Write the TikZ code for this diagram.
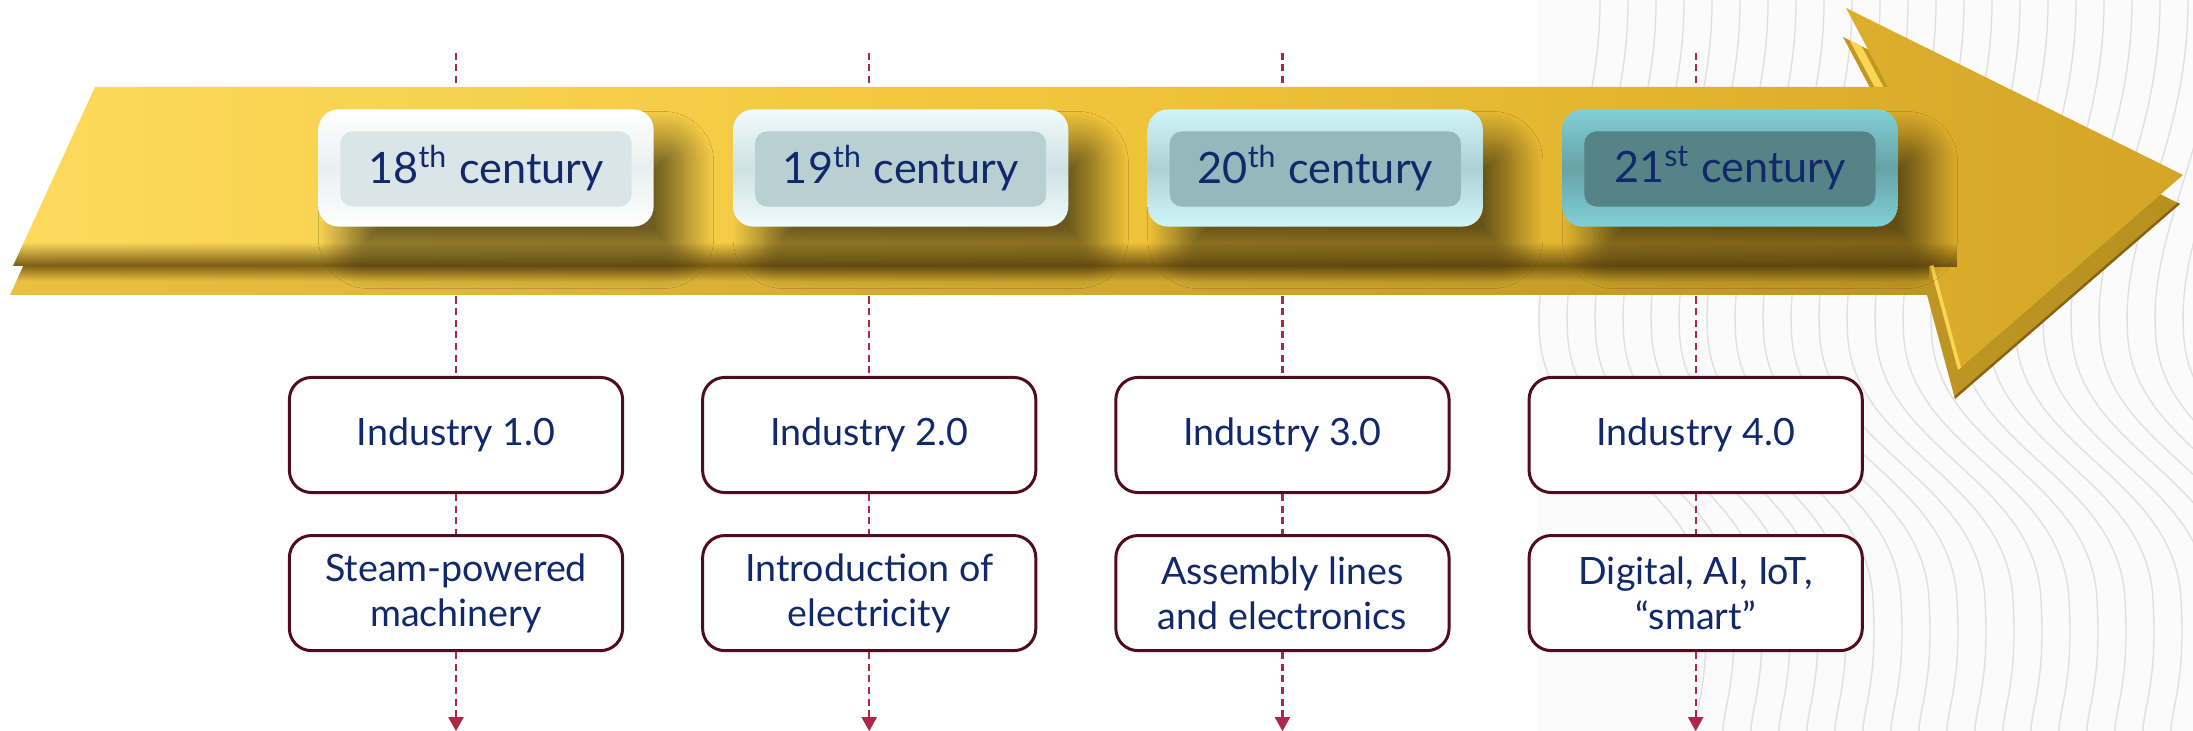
\documentclass[tikz,border=0pt]{standalone}
\usepackage{fontspec}
\setmainfont{Lato}
\usetikzlibrary{positioning, math, calc, arrows.meta, fadings, shadows.blur}

\definecolor{navyText}{RGB}{17,41,107}
\definecolor{maroonLine}{RGB}{78,12,28}
\definecolor{dashRed}{RGB}{172,40,68}
\definecolor{goldLight}{RGB}{253,218,92}
\definecolor{goldMid}{RGB}{240,196,58}
\definecolor{goldDeep}{RGB}{212,165,38}
\definecolor{goldSideL}{RGB}{234,192,66}
\definecolor{goldSideR}{RGB}{184,144,30}
\definecolor{goldShade}{RGB}{98,72,12}
\definecolor{goldGlow}{RGB}{252,214,80}
\definecolor{rimA}{RGB}{255,255,255}
\definecolor{fillA}{RGB}{218,229,231}
\definecolor{rimB}{RGB}{240,251,252}
\definecolor{fillB}{RGB}{185,208,211}
\definecolor{rimC}{RGB}{208,245,248}
\definecolor{fillC}{RGB}{149,184,188}
\definecolor{rimD}{RGB}{128,208,214}
\definecolor{fillD}{RGB}{86,132,134}
\definecolor{waveGray}{RGB}{224,224,224}
\definecolor{bgGray}{RGB}{251,251,251}

% flat panel inside the bevelled century boxes
\newcommand{\innerpanel}[1]{%
	\fill[#1, rounded corners=1.2mm]
		($(path picture bounding box.south west)+(2.2mm,2mm)$) rectangle
		($(path picture bounding box.north east)+(-2.2mm,-2.2mm)$);}

\begin{document}
\begin{tikzpicture}[x=0.01cm, y=-0.01cm]
		\tikzmath{
			\boxW      = 33.3;  %industry box width
			\boxH      = 11.5;  %industry box height
			\boxGap    = 7.7;   %distance between industry boxes
			\rowGap    = 4;     %distance between the two rows
			\centW     = 33.5;  %century box width
			\centH     = 11.7;  %century box height
			\centGap   = 7.8;   %distance between century boxes
		}
		\tikzstyle{IndBox} = [
			draw=maroonLine,
			line width=0.85pt,
			fill=white,
			rounded corners=2.2mm,
			align=center,
			text=navyText,
			font=\fontsize{10.7}{12.9}\selectfont,
			minimum width=\boxW mm,
			minimum height=\boxH mm,
		]
		\tikzstyle{CentBase} = [
			rounded corners=2mm,
			text=navyText,
			font=\fontsize{12.3}{14}\selectfont,
			minimum width=\centW mm,
			minimum height=\centH mm,
			blur shadow={shadow xshift=3mm, shadow yshift=-3.2mm, shadow blur radius=3mm,
				shadow blur steps=20, shadow opacity=55},
		]
		\tikzstyle{CentA} = [CentBase, top color=rimA, bottom color=rimA, middle color=fillA!60!rimA, path picture={\innerpanel{fillA}}]
		\tikzstyle{CentB} = [CentBase, top color=rimB, bottom color=rimB, middle color=fillB!60!rimB, path picture={\innerpanel{fillB}}]
		\tikzstyle{CentC} = [CentBase, top color=rimC, bottom color=rimC, middle color=fillC!60!rimC, path picture={\innerpanel{fillC}}]
		\tikzstyle{CentD} = [CentBase, top color=rimD, bottom color=rimD, middle color=fillD!60!rimD, path picture={\innerpanel{fillD}}]
		\tikzstyle{TimeLine} = [
			dashRed,
			line width=0.6pt,
			dash pattern=on 2pt off 1.3pt,
		]
		\tikzstyle{WaveLine} = [waveGray, line width=0.4pt]

		\useasboundingbox (0,0) rectangle (2193,731);
		\fill[white] (0,0) rectangle (2193,731);
		%%%%%%%%%%%%%%%%%%%%%%%%%%===---BACKGROUND WAVES---===%%%%%%%%%%%%%%%%%%%%%%%%%%
		\begin{scope}
			\clip (1537,0) rectangle (2193,731);
			\fill[bgGray] (1537,0) rectangle (2193,731);
			\foreach \x in {1600,1628,...,2320}
				\draw[WaveLine] (\x,0) .. controls (\x,150) and (\x-70,230) .. (\x-60,340)
					.. controls (\x-50,450) and (\x+100,480) .. (\x+105,600)
					.. controls (\x+110,680) and (\x+95,710) .. (\x+95,731);
		\end{scope}
		%%%%%%%%%%%%%%%%%%%%%%%%%%===---INDUSTRY ROW---===%%%%%%%%%%%%%%%%%%%%%%%%%%
		\node (i1) [IndBox] at (456,435) {Industry 1.0};
			\node (i2) [IndBox, right = \boxGap mm of i1] {Industry 2.0};
			\node (i3) [IndBox, right = \boxGap mm of i2] {Industry 3.0};
			\node (i4) [IndBox, right = \boxGap mm of i3] {Industry 4.0};
		%%%%%%%%%%%%%%%%%%%%%%%%%%===---DESCRIPTION ROW---===%%%%%%%%%%%%%%%%%%%%%%%%%%
		\node (d1) [IndBox, below = \rowGap mm of i1] {Steam-powered\\machinery};
			\node (d2) [IndBox, below = \rowGap mm of i2] {Introduction of\\electricity};
			\node (d3) [IndBox, below = \rowGap mm of i3] {Assembly lines\\and electronics};
			\node (d4) [IndBox, below = \rowGap mm of i4] {Digital, AI, IoT,\\“smart”};
		%%%%%%%%%%%%%%%%%%%%%%%%%%===---TIME LINES---===%%%%%%%%%%%%%%%%%%%%%%%%%%
		\coordinate [above = 32.3mm of i1] (t1);
		\coordinate [above = 32.3mm of i2] (t2);
		\coordinate [above = 32.3mm of i3] (t3);
		\coordinate [above = 32.3mm of i4] (t4);
		\coordinate [below = 7.9mm of d1] (b1);
		\coordinate [below = 7.9mm of d2] (b2);
		\coordinate [below = 7.9mm of d3] (b3);
		\coordinate [below = 7.9mm of d4] (b4);
		\draw [TimeLine] (t1) -- (i1.north);
		\draw [TimeLine] (t2) -- (i2.north);
		\draw [TimeLine] (t3) -- (i3.north);
		\draw [TimeLine] (t4) -- (i4.north);
		\draw [TimeLine] (i1.south) -- (d1.north);
		\draw [TimeLine] (i2.south) -- (d2.north);
		\draw [TimeLine] (i3.south) -- (d3.north);
		\draw [TimeLine] (i4.south) -- (d4.north);
		\draw [TimeLine, -{Triangle[width=4.3pt,length=4pt]}] (d1.south) -- (b1);
		\draw [TimeLine, -{Triangle[width=4.3pt,length=4pt]}] (d2.south) -- (b2);
		\draw [TimeLine, -{Triangle[width=4.3pt,length=4pt]}] (d3.south) -- (b3);
		\draw [TimeLine, -{Triangle[width=4.3pt,length=4pt]}] (d4.south) -- (b4);
		%%%%%%%%%%%%%%%%%%%%%%%%%%===---GOLD ARROW---===%%%%%%%%%%%%%%%%%%%%%%%%%%
		\def\frontFace{(95,87) -- (1888,87) -- (1846,8) -- (2183,175) -- (1958,370) -- (1930,266) -- (13,266) -- cycle}
		\shade [left color=goldSideL, right color=goldSideR, shift={(-3,29)}] \frontFace; %thickness
		\begin{scope}
			\clip [shift={(-3,29)}] \frontFace;
			\fill [goldShade, path fading=south, opacity=.75] (0,266) rectangle (1932,281);
			\draw [goldGlow, line width=2.2pt] (1843,20) -- (1886,100); %upper barb bevel
			\draw [goldShade, line width=1.4pt, opacity=.6] (2180,204) -- (1955,399);
		\end{scope}
		\shade [left color=goldLight, right color=goldDeep, middle color=goldMid] \frontFace;
		\begin{scope}
			\clip \frontFace;
			\fill [goldShade, path fading=north, opacity=.9] (0,242) rectangle (1960,267);
			\draw [goldGlow, line width=2pt] (1930,266) -- (1958,370); %lower barb bevel
		\end{scope}
		%%%%%%%%%%%%%%%%%%%%%%%%%%===---CENTURY ROW---===%%%%%%%%%%%%%%%%%%%%%%%%%%
		\node (c1) [CentA] at (486,168) {18\textsuperscript{th} century};
			\node (c2) [CentB, right = \centGap mm of c1] {19\textsuperscript{th} century};
			\node (c3) [CentC, right = \centGap mm of c2] {20\textsuperscript{th} century};
			\node (c4) [CentD, right = \centGap mm of c3] {21\textsuperscript{st} century};
\end{tikzpicture}
\end{document}
